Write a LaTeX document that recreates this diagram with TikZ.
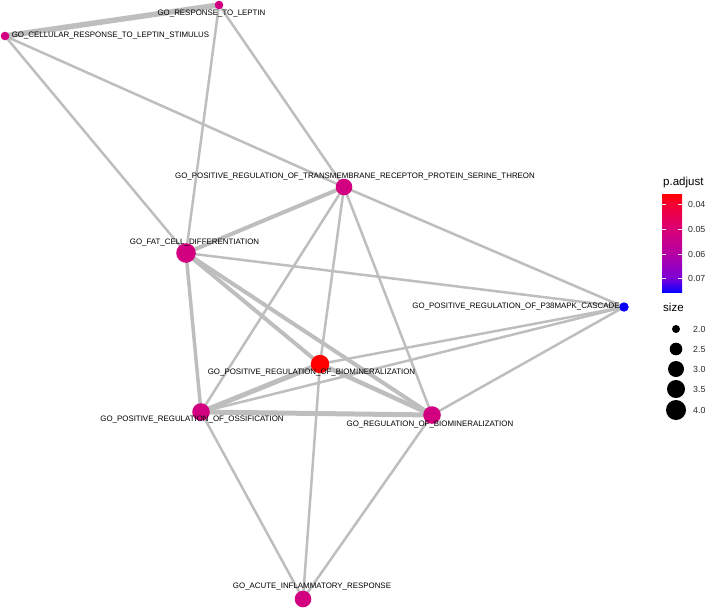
\documentclass[tikz,border=0pt]{standalone}
\usepackage{fontspec}
\setmainfont{Liberation Sans}
\pgfdeclarelayer{bg}
\pgfsetlayers{bg,main}
\definecolor{edgegray}{RGB}{190,190,190}
\definecolor{nodemag}{RGB}{210,0,128}
\definecolor{nodered}{RGB}{255,0,0}
\definecolor{nodeblue}{RGB}{10,0,255}
\definecolor{legtxt}{RGB}{40,40,40}
\definecolor{cbA}{RGB}{125,0,215}
\definecolor{cbB}{RGB}{180,0,165}
\definecolor{cbC}{RGB}{218,0,118}
\definecolor{cbD}{RGB}{245,0,50}
\pgfdeclareverticalshading{padj}{100bp}{%
  color(0bp)=(nodeblue); color(25bp)=(nodeblue);
  color(32.1bp)=(cbA);
  color(44.4bp)=(cbB);
  color(57.1bp)=(cbC);
  color(69.9bp)=(cbD);
  color(75bp)=(nodered); color(100bp)=(nodered)}
\begin{document}
\begin{tikzpicture}[x=1pt,y=-1pt,
  dot/.style={circle, inner sep=0pt, draw=none, fill=nodemag},
  lbl/.style={font=\fontsize{7.9}{9}\selectfont, inner sep=0pt, text=black},
  edge/.style={line width=2.5pt, draw=edgegray},
  legtitle/.style={font=\fontsize{11.5}{13}\selectfont, inner sep=0pt, anchor=west, text=black},
  legnum/.style={font=\fontsize{8.8}{10}\selectfont, inner sep=0pt, anchor=west, text=legtxt}]
\useasboundingbox (0,0) rectangle (708,608);
% nodes
\node[dot, minimum size=8.6pt] (RL) at (219,5) {};
\node[dot, minimum size=8.6pt] (CRL) at (5,36) {};
\node[dot, minimum size=16.6pt] (TM) at (344,187) {};
\node[dot, minimum size=19.6pt] (FAT) at (186,253) {};
\node[dot, minimum size=9.4pt, fill=nodeblue] (P38) at (624,307) {};
\node[dot, minimum size=18.4pt, fill=nodered] (PBM) at (320,364) {};
\node[dot, minimum size=17.6pt] (OSS) at (201,412) {};
\node[dot, minimum size=17.6pt] (RBM) at (432,415) {};
\node[dot, minimum size=16.6pt] (AIR) at (303,599) {};
% edges
\begin{pgfonlayer}{bg}
\draw[edge, line width=5.5pt] (RL.center) -- (CRL.center);
\draw[edge] (RL.center) -- (FAT.center);
\draw[edge] (RL.center) -- (TM.center);
\draw[edge] (CRL.center) -- (FAT.center);
\draw[edge] (CRL.center) -- (TM.center);
\draw[edge, line width=4pt] (TM.center) -- (FAT.center);
\draw[edge] (TM.center) -- (P38.center);
\draw[edge] (TM.center) -- (OSS.center);
\draw[edge] (TM.center) -- (PBM.center);
\draw[edge] (TM.center) -- (RBM.center);
\draw[edge] (FAT.center) -- (P38.center);
\draw[edge, line width=3.5pt] (FAT.center) -- (OSS.center);
\draw[edge, line width=4pt] (FAT.center) -- (PBM.center);
\draw[edge, line width=4pt] (FAT.center) -- (RBM.center);
\draw[edge, line width=5pt] (OSS.center) -- (PBM.center);
\draw[edge, line width=5pt] (OSS.center) -- (RBM.center);
\draw[edge, line width=4.5pt] (PBM.center) -- (RBM.center);
\draw[edge] (OSS.center) -- (P38.center);
\draw[edge] (PBM.center) -- (P38.center);
\draw[edge] (RBM.center) -- (P38.center);
\draw[edge] (OSS.center) -- (AIR.center);
\draw[edge] (PBM.center) -- (AIR.center);
\draw[edge] (RBM.center) -- (AIR.center);
\end{pgfonlayer}
% labels
\node[lbl] (lRL) at (211.5,14) {GO\_RESPONSE\_TO\_LEPTIN};
\node[lbl] (lCRL) at (110.5,36) {GO\_CELLULAR\_RESPONSE\_TO\_LEPTIN\_STIMULUS};
\node[lbl] (lTM) at (355,177) {GO\_POSITIVE\_REGULATION\_OF\_TRANSMEMBRANE\_RECEPTOR\_PROTEIN\_SERINE\_THREON};
\node[lbl] (lFAT) at (194.5,243) {GO\_FAT\_CELL\_DIFFERENTIATION};
\node[lbl] (lP38) at (516,307) {GO\_POSITIVE\_REGULATION\_OF\_P38MAPK\_CASCADE};
\node[lbl] (lPBM) at (311.5,373) {GO\_POSITIVE\_REGULATION\_OF\_BIOMINERALIZATION};
\node[lbl] (lOSS) at (192,420) {GO\_POSITIVE\_REGULATION\_OF\_OSSIFICATION};
\node[lbl] (lRBM) at (430,425) {GO\_REGULATION\_OF\_BIOMINERALIZATION};
\node[lbl] (lAIR) at (312,587) {GO\_ACUTE\_INFLAMMATORY\_RESPONSE};
% legend: p.adjust
\node[legtitle] (tpadj) at (663,183) {p.adjust};
\shade[shading=padj] (662,194) rectangle (682,292);
\foreach \yy/\tt in {204/0.04, 229/0.05, 254/0.06, 278/0.07}{
  \draw[white, line width=0.6pt] (662,\yy) -- (666,\yy);
  \draw[white, line width=0.6pt] (678,\yy) -- (682,\yy);
  \node[legnum] at (688,\yy) {\tt};
}
% legend: size
\node[legtitle] (tsize) at (663,307) {size};
\foreach \yy/\rr/\tt in {329/4/2.0, 349/6.3/2.5, 369/8/3.0, 389/9/3.5, 410/10/4.0}{
  \fill[black] (676,\yy) circle[radius=\rr pt];
  \node[legnum] at (693,\yy) {\tt};
}
\end{tikzpicture}
\end{document}
